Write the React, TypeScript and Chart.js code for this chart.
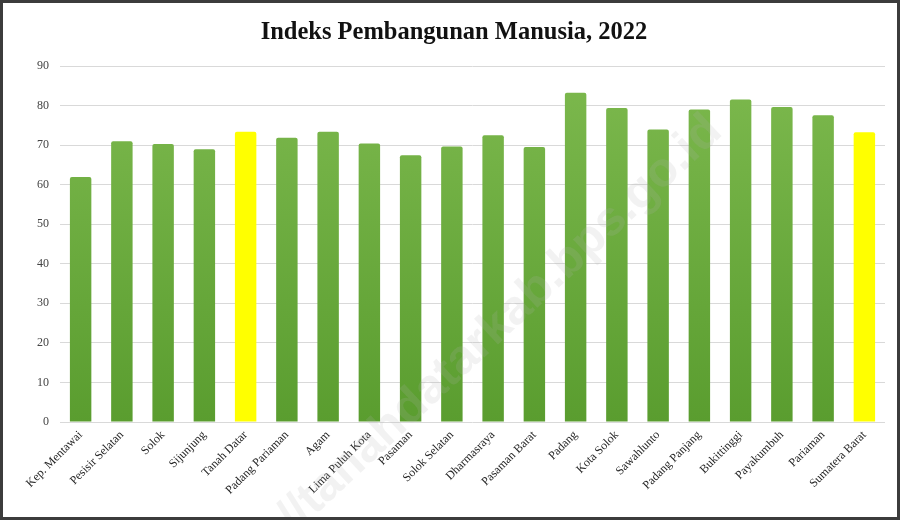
import React, { useEffect, useRef } from "react";
import { Chart, registerables } from "chart.js";

Chart.register(...registerables);

const TITLE = "Indeks Pembangunan Manusia, 2022";
const categories = [
  "Kep. Mentawai", "Pesisir Selatan", "Solok", "Sijunjung", "Tanah Datar",
  "Padang Pariaman", "Agam", "Lima Puluh Kota", "Pasaman", "Solok Selatan",
  "Dharmasraya", "Pasaman Barat", "Padang", "Kota Solok", "Sawahlunto",
  "Padang Panjang", "Bukittinggi", "Payakumbuh", "Pariaman", "Sumatera Barat",
];
const ipmValues = [
  61.92, 70.95, 70.25, 68.96, 73.35,
  71.83, 73.35, 70.43, 67.45, 69.68,
  72.48, 69.54, 83.25, 79.41, 73.97,
  78.98, 81.52, 79.62, 77.57, 73.26,
];
const highlighted = ["Tanah Datar", "Sumatera Barat"];
const yTicks = [0, 10, 20, 30, 40, 50, 60, 70, 80, 90];
const WATERMARK_MAIN = "tanahdatarkab.bps.go.id";
const WATERMARK_PREFIX = "https://";

const titlePlugin = {
  id: "customTitle",
  afterDraw(chart: any) {
    const ctx = chart.ctx as CanvasRenderingContext2D;
    ctx.save();
    ctx.font = "bold 24.5px 'Liberation Serif', 'Times New Roman', serif";
    ctx.fillStyle = "#111111";
    ctx.textAlign = "center";
    ctx.textBaseline = "middle";
    ctx.fillText(TITLE, 451, 30);
    ctx.restore();
  },
};

const watermarkPlugin = {
  id: "watermark",
  afterDraw(chart: any) {
    const ctx = chart.ctx as CanvasRenderingContext2D;
    ctx.save();
    ctx.translate(507, 312);
    ctx.rotate((-43 * Math.PI) / 180);
    ctx.font = "bold 40px 'Liberation Sans', Arial, sans-serif";
    const w = ctx.measureText(WATERMARK_MAIN).width;
    const size = 40 * (560 / w);
    ctx.font = `bold ${size}px 'Liberation Sans', Arial, sans-serif`;
    ctx.fillStyle = "rgba(175,175,175,0.17)";
    ctx.textBaseline = "middle";
    ctx.textAlign = "center";
    ctx.fillText(WATERMARK_MAIN, 0, 0);
    ctx.textAlign = "right";
    ctx.fillText(WATERMARK_PREFIX, -280, 0);
    ctx.restore();
  },
};

export default function App() {
  const ref = useRef<HTMLCanvasElement | null>(null);

  useEffect(() => {
    document.body.style.margin = "0";
    const canvas = ref.current!;
    const chart = new Chart(canvas, {
      type: "bar",
      data: {
        labels: categories,
        datasets: [
          {
            data: ipmValues,
            backgroundColor: (c: any) => {
              const label = categories[c.dataIndex];
              if (highlighted.includes(label)) return "#ffff00";
              const area = c.chart.chartArea;
              if (!area) return "#6aab3e";
              const g = c.chart.ctx.createLinearGradient(0, area.top, 0, area.bottom);
              g.addColorStop(0, "#7db94e");
              g.addColorStop(1, "#5a9d2f");
              return g;
            },
            borderWidth: 0,
            borderRadius: 2,
            borderSkipped: "bottom",
            barPercentage: 0.52,
            categoryPercentage: 1,
          },
        ],
      },
      options: {
        animation: false,
        responsive: false,
        maintainAspectRatio: false,
        layout: { padding: { left: 0, right: 12, top: 63, bottom: 0 } },
        plugins: {
          legend: { display: false },
          tooltip: { enabled: false },
          title: { display: false },
        },
        scales: {
          x: {
            grid: { display: false, drawTicks: false },
            border: { display: false },
            ticks: {
              minRotation: 45,
              maxRotation: 45,
              color: "#262626",
              padding: 6,
              font: { family: "'Liberation Serif', 'Times New Roman', serif", size: 12 },
            },
            afterFit: (s: any) => {
              s.height = 95;
            },
          },
          y: {
            min: 0,
            max: 90,
            afterBuildTicks: (s: any) => {
              s.ticks = yTicks.map((v) => ({ value: v }));
            },
            grid: { color: "#d9d9d9", lineWidth: 1, drawTicks: false },
            border: { display: false },
            ticks: {
              color: "#444444",
              padding: 11,
              font: { family: "'Liberation Serif', 'Times New Roman', serif", size: 12 },
            },
            afterFit: (s: any) => {
              s.width = 57;
            },
          },
        },
      },
      plugins: [titlePlugin, watermarkPlugin],
    } as any);
    return () => chart.destroy();
  }, []);

  return (
    <div
      style={{
        width: 900,
        height: 520,
        boxSizing: "border-box",
        border: "3px solid #3c3c3c",
        background: "#ffffff",
      }}
    >
      <canvas ref={ref} width={894} height={514} style={{ display: "block" }} />
    </div>
  );
}
